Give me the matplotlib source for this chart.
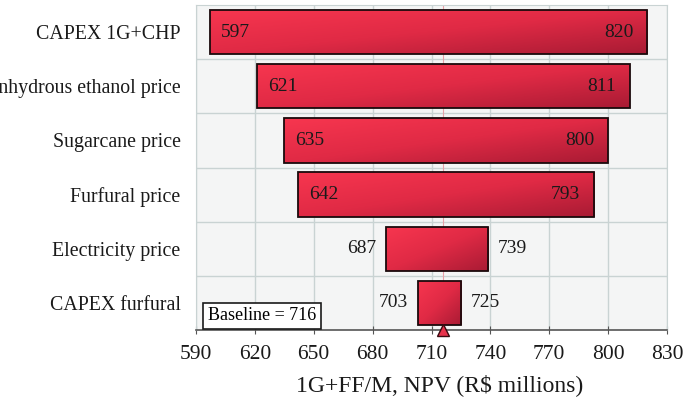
import matplotlib
matplotlib.use("Agg")
import matplotlib.pyplot as plt
import numpy as np
from matplotlib.colors import LinearSegmentedColormap
from matplotlib.patches import Rectangle

# Tornado chart data (R$ millions)
categories = ["CAPEX 1G+CHP", "Anhydrous ethanol price", "Sugarcane price",
              "Furfural price", "Electricity price", "CAPEX furfural"]
low_values = [597, 621, 635, 642, 687, 703]
high_values = [820, 811, 800, 793, 739, 725]
baseline = 716
xticks = [590, 620, 650, 680, 710, 740, 770, 800, 830]
inside_labels = [True, True, True, True, False, False]

plt.rcParams['font.family'] = ['Liberation Serif', 'DejaVu Serif']

fig = plt.figure(figsize=(6.93, 4.08), dpi=100)
ax = fig.add_axes([196/693, 1 - 330/408, (667-196)/693, (330-5)/408])
ax.set_facecolor('#f4f5f5')

cmap = LinearSegmentedColormap.from_list('redgrad', ['#f7364f', '#e02a45', '#a91b34'])
grad = np.add.outer(np.linspace(0, 1, 40), np.linspace(0, 1, 200)) / 2.0

bar_h = 0.82
lab_fs = 14
for i, (lo, hi) in enumerate(zip(low_values, high_values)):
    y0 = i - bar_h / 2
    rect = Rectangle((lo, y0), hi - lo, bar_h, facecolor='none',
                     edgecolor='#1a0a0c', linewidth=1.3, zorder=4)
    ax.add_patch(rect)
    im = ax.imshow(grad, cmap=cmap, aspect='auto', extent=(lo, hi, y0 + bar_h, y0),
                   zorder=3, interpolation='bilinear')
    im.set_clip_path(rect)
    if inside_labels[i]:
        ax.annotate(str(lo), (lo, i), xytext=(8, 0), textcoords='offset points',
                    ha='left', va='center', fontsize=lab_fs, color='#1a1a1a', zorder=5)
        ax.annotate(str(hi), (hi, i), xytext=(-10, 0), textcoords='offset points',
                    ha='right', va='center', fontsize=lab_fs, color='#1a1a1a', zorder=5)
    else:
        ax.annotate(str(lo), (lo, i), xytext=(-7, 0), textcoords='offset points',
                    ha='right', va='center', fontsize=lab_fs, color='#1a1a1a', zorder=5)
        ax.annotate(str(hi), (hi, i), xytext=(7, 0), textcoords='offset points',
                    ha='left', va='center', fontsize=lab_fs, color='#1a1a1a', zorder=5)

ax.set_xlim(590, 830)
ax.set_ylim(len(categories) - 0.5, -0.5)
ax.set_xticks(xticks)
ax.set_xticklabels([str(t) for t in xticks], fontsize=15.5, color='#1a1a1a')
ax.set_yticks(range(len(categories)))
ax.set_yticklabels(categories, fontsize=14.3, color='#1a1a1a')
ax.tick_params(axis='y', length=0, pad=11)
ax.tick_params(axis='x', direction='inout', length=6, color='#555555', pad=8)

# grid: vertical at ticks, horizontal between rows
for t in xticks:
    ax.axvline(t, color='#c9d3d3', linewidth=1.0, zorder=1)
for k in range(len(categories) - 1):
    ax.axhline(k + 0.5, color='#c9d3d3', linewidth=1.0, zorder=1)
ax.axvline(baseline, color='#e8a0a8', linewidth=0.8, zorder=1)

for side in ['top', 'right', 'left']:
    ax.spines[side].set_color('#c9d3d3')
ax.spines['bottom'].set_color('#555555')
ax.spines['bottom'].set_linewidth(1.2)

ax.plot([baseline], [len(categories) - 0.5], marker='^', markersize=8,
        markerfacecolor='#e8334c', markeredgecolor='#3a0a10', clip_on=False, zorder=6)

ax.text(0.025, 0.018, f"Baseline = {baseline}", transform=ax.transAxes, fontsize=13,
        ha='left', va='bottom', zorder=6,
        bbox=dict(boxstyle='square,pad=0.25', facecolor='white', edgecolor='#1a1a1a', linewidth=1.2))

ax.set_xlabel("1G+FF/M, NPV (R$ millions)", fontsize=17, color='#1a1a1a')
ax.xaxis.set_label_coords(0.518, -0.135)

fig.savefig("out.png", dpi=100)
